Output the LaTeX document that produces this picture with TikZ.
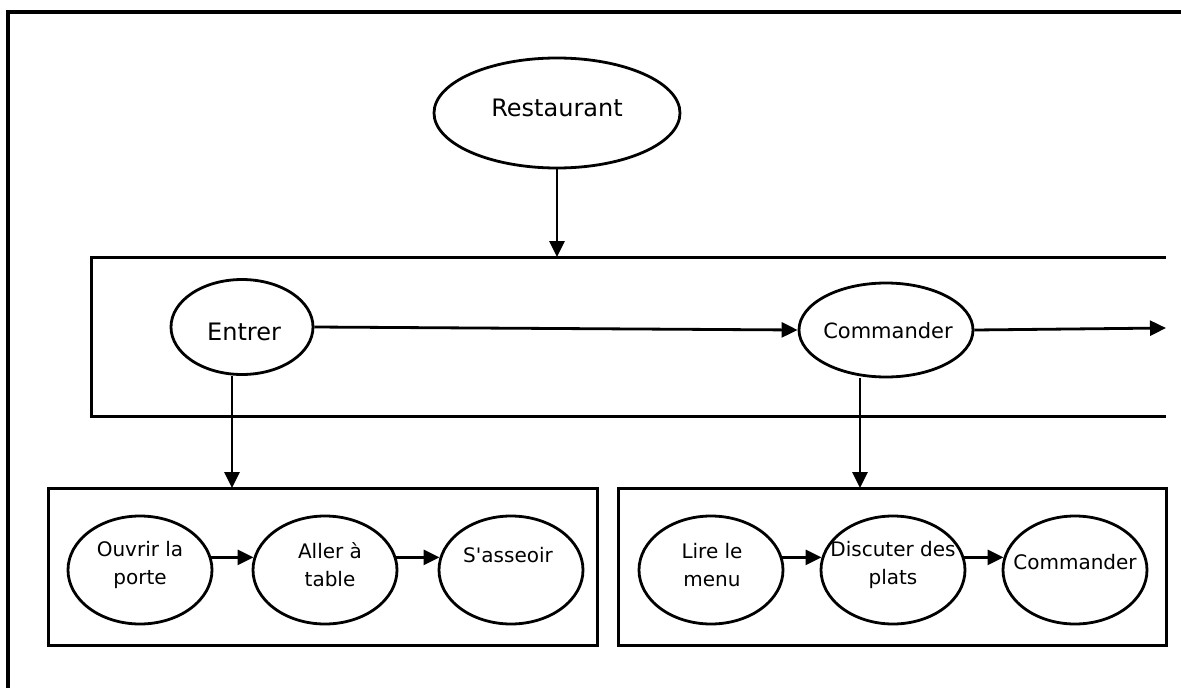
\documentclass[tikz,border=0pt]{standalone}
\usepackage{fontspec}
\newfontfamily\plainfont{DejaVu Sans}
\usetikzlibrary{shapes.geometric,arrows.meta,calc}
\begin{document}
\begin{tikzpicture}[x=1pt,y=-1pt,
  oval/.style={draw,ellipse,line width=2.8pt,inner sep=0pt},
  txt/.style={inner sep=0pt,align=center,font=\plainfont\fontsize{20}{28}\selectfont},
  frame/.style={draw,line width=3pt},
  arr/.style={line width=2.8pt,-{Triangle[length=16pt,width=15pt]}}]
\useasboundingbox (0,0) rectangle (1181,688);
% outer frame (clipped on right and bottom)
\draw[line width=3.2pt] (8,688) -- (8,12) -- (1181,12);
% top node
\node[oval,minimum width=246,minimum height=110] (rest) at (557,113) {};
\node[txt,font=\plainfont\fontsize{24}{28}\selectfont] (restt) at (557,108) {Restaurant};
% middle open box
\draw[frame] (1166,257) -- (91,257) -- (91,416) -- (1166,416);
\coordinate (midtop) at (557,257);
\node[oval,minimum width=142,minimum height=95] (entrer) at (242,327) {};
\node[txt,font=\plainfont\fontsize{24}{28}\selectfont] (entrert) at (244,332) {Entrer};
\node[oval,minimum width=174,minimum height=94] (cmd) at (886,330) {};
\node[txt,font=\plainfont\fontsize{21}{28}\selectfont] (cmdt) at (888,331) {Commander};
\coordinate (out) at (1166,328);
% lower boxes
\draw[frame] (48,488) rectangle (597,645);
\draw[frame] (618,488) rectangle (1166,645);
\coordinate (lbin) at (232,488);
\coordinate (rbin) at (860,488);
\node[oval,minimum width=144,minimum height=108] (o1) at (140,570) {};
\node[oval,minimum width=144,minimum height=108] (o2) at (325,570) {};
\node[oval,minimum width=144,minimum height=108] (o3) at (511,570) {};
\node[oval,minimum width=144,minimum height=108] (p1) at (711,570) {};
\node[oval,minimum width=144,minimum height=108] (p2) at (893,570) {};
\node[oval,minimum width=144,minimum height=108] (p3) at (1075,570) {};
\node[txt] (o1t) at (140,565) {Ouvrir la\\porte};
\node[txt] (o2t) at (330,565) {Aller à\\table};
\node[txt] (o3t) at (508,555) {S'asseoir};
\node[txt] (p1t) at (712,565) {Lire le\\menu};
\node[txt] (p2t) at (893,565) {Discuter des\\plats};
\node[txt] (p3t) at (1075,562) {Commander};
% connectors
\draw[arr] (rest.south) -- (midtop);
\draw[arr] (entrer.east) -- (cmd.west);
\draw[arr] (cmd.east) -- (out);
\draw[arr] (lbin |- entrer.south) -- (lbin);
\draw[arr] (rbin |- cmd.south) -- (rbin);
\draw[arr] (o1.10) -- (o2.170);
\draw[arr] (o2.10) -- (o3.170);
\draw[arr] (p1.10) -- (p2.170);
\draw[arr] (p2.10) -- (p3.170);
\end{tikzpicture}
\end{document}
